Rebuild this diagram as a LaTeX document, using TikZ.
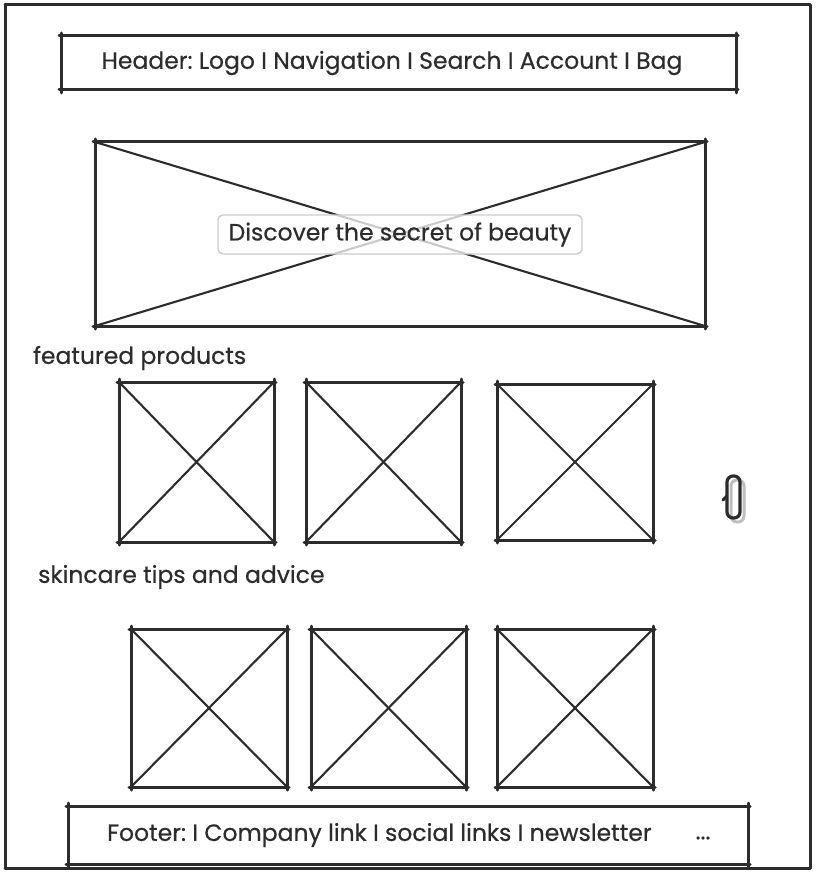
\documentclass[tikz,border=0pt]{standalone}
\usepackage{fontspec}
\setmainfont{Poppins}[FakeBold=0.5]
\frenchspacing
\definecolor{ink}{HTML}{2C2C2C}
\begin{document}
\begin{tikzpicture}[x=1pt,y=-1pt,
  line/.style={draw=ink,line width=3pt,line cap=round},
  thin/.style={draw=ink,line width=2.1pt,line cap=round},
  lbl/.style={text=ink,font=\fontsize{23.5}{28}\selectfont,inner sep=0pt},
]
\useasboundingbox (0,0) rectangle (816,874);
\newcommand{\skrect}[5]{% name, x1,y1,x2,y2
  \coordinate (#1-nw) at (#2,#3);
  \coordinate (#1-se) at (#4,#5);
  \draw[line] (#2-2,#3) -- (#4+2,#3);
  \draw[line] (#2-2,#5) -- (#4+2,#5);
  \draw[line] (#2,#3-3) -- (#2,#5+3);
  \draw[line] (#4,#3-3) -- (#4,#5+3);
}
\newcommand{\skx}[5]{%
  \skrect{#1}{#2}{#3}{#4}{#5}
  \draw[thin] (#2,#3) -- (#4,#5);
  \draw[thin] (#4,#3) -- (#2,#5);
}
% outer frame
\draw[line] (5,5) -- (810,5);
\draw[line] (5,5) -- (5,868);
\draw[line] (810,5) -- (810,868);
\draw[line] (5,868) -- (810,868);
% header
\skrect{hdr}{61}{36}{736}{90}
\node[lbl,anchor=center] (htext) at (392,63) {Header: Logo I Navigation I Search I Account I Bag};
% hero
\skx{hero}{95}{142}{705}{326}
\node[draw=black!20,line width=1.4pt,rounded corners=5pt,fill=white,fill opacity=0.75,text opacity=1,text=ink,font=\fontsize{23.5}{28}\selectfont,minimum width=364pt,minimum height=39pt,inner sep=0pt] (herolabel) at (400,234.5) {Discover the secret of beauty};
% featured
\node[lbl,anchor=west] (feat) at (33,358) {featured products};
\skx{p1}{119}{382}{274}{542}
\skx{p2}{306}{382}{461}{542}
\skx{p3}{497}{384}{653}{540}
% small scroll icon
\draw[black!25,line width=3pt,rounded corners=6pt] (731,480) rectangle (744,522);
\draw[line,line width=3.2pt,rounded corners=6pt] (727,476) rectangle (740,518);
\draw[line] (727,496) -- (723,500);
% skincare
\node[lbl,anchor=west] (skin) at (38,577) {skincare tips and advice};
\skx{s1}{131}{629}{287}{787}
\skx{s2}{311}{629}{466}{787}
\skx{s3}{497}{629}{653}{787}
% footer
\skrect{ftr}{68}{806}{748}{864}
\node[lbl,anchor=west] (ftext) at (107,835) {Footer: I Company link I social links I newsletter};
\node[lbl,anchor=center] (fdots) at (703,838) {...};
\end{tikzpicture}
\end{document}
